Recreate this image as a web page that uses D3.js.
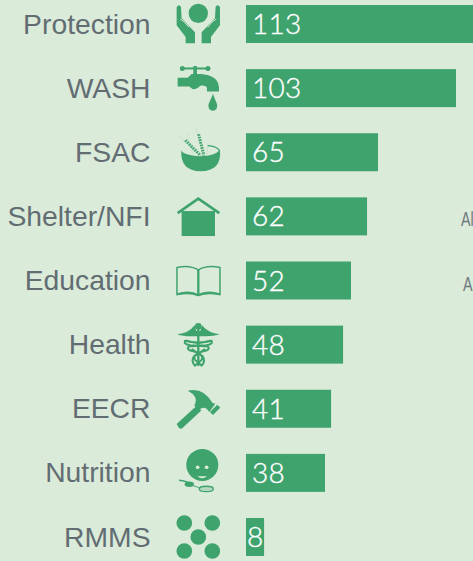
<!DOCTYPE html>
<html><head><meta charset="utf-8">
<script src="https://cdn.jsdelivr.net/npm/d3@7/dist/d3.min.js"></script>
<style>html,body{margin:0;padding:0;background:#dbebd9;overflow:hidden}svg{display:block}</style>
</head><body><script>
const categories = ["Protection","WASH","FSAC","Shelter/NFI","Education","Health","EECR","Nutrition","RMMS"];
const labelValues = [113,103,65,62,52,48,41,38,8];
// Bar lengths, on the same value axis (drawn bars differ slightly from their labels)
const barLengths = [113,103.4,65,59.6,51.7,47.8,41.9,38.9,8.9];
const strayLabels = [{row:3,text:"Al"},{row:4,text:"A"}];

const W=473,H=561,GREEN="#3fa36d",BG="#dbebd9",GREY="#626d73";
const svg=d3.select("body").append("svg").attr("width",W).attr("height",H);
svg.append("rect").attr("width",W).attr("height",H).attr("fill",BG);

const y=d3.scaleBand().domain(categories).range([5,556]).paddingInner(0.4075).paddingOuter(0);
const x=d3.scaleLinear().domain([0,103.4]).range([246,456]);
const cy=c=>y(c)+y.bandwidth()/2;

const rows=svg.selectAll("g.row").data(categories.map((c,i)=>({c,i,v:labelValues[i],len:barLengths[i]}))).join("g").attr("class","row");
rows.append("rect").attr("x",x(0)).attr("y",d=>y(d.c)).attr("width",d=>x(d.len)-x(0)).attr("height",y.bandwidth()).attr("fill",GREEN);
rows.append("text").attr("x",150.5).attr("y",d=>cy(d.c)+9.6).attr("text-anchor","end")
  .attr("font-family","'Liberation Sans',Arial,sans-serif").attr("font-size",28.3).attr("fill",GREY).text(d=>d.c);
rows.append("text").attr("x",d=>d.v<10?x(0)+1:x(0)+6).attr("y",d=>cy(d.c)+10).attr("font-family","Lato,sans-serif").attr("font-weight",300)
  .attr("font-size",28).attr("fill","#fff").attr("stroke","#fff").attr("stroke-width",0.35).attr("letter-spacing",0.3).text(d=>d.v);

strayLabels.forEach(s=>svg.append("text").attr("transform",`translate(${s.row===3?461:463},${cy(categories[s.row])+10}) scale(0.68,1)`)
  .attr("font-family","'Liberation Sans',sans-serif").attr("font-size",21).attr("fill","#71797f").text(s.text));

// Icon artwork: each is drawn in a 3x local space, centred on its row
const icons={
 Protection:[72,g=>{
  g.append("circle").attr("cx",115).attr("cy",40).attr("r",29);
  [0,1].forEach(m=>{const h=g.append("g").attr("transform",m?"translate(230,0) scale(-1,1)":null);
   h.append("path").attr("d","M50,22 Q56,10 63,20 L65,55 L105,97 V130 H77 V111 L50,76 Z");
   h.append("path").attr("d","M61,57 Q72,62 87,82").attr("fill","none").attr("stroke",BG).attr("stroke-width",3);});
 }],
 WASH:[264,g=>{
  g.append("path").attr("d","M66,205 H144").attr("fill","none").attr("stroke",GREEN).attr("stroke-width",6);
  g.append("circle").attr("cx",67).attr("cy",205).attr("r",7.5);g.append("circle").attr("cx",144).attr("cy",205).attr("r",7.5);
  g.append("rect").attr("x",100).attr("y",198).attr("width",11).attr("height",30);
  g.append("path").attr("d","M53,233 H83 L95,222 H122 Q175,226 177,262 V274 H141 V262 Q135,254 121,257 Q104,276 88,259 H53 Z");
  g.append("path").attr("d","M159,282 L171,312 A13.5,14.5 0 1 1 146,312 Z");
 }],
 FSAC:[456,g=>{
  g.append("path").attr("d","M55,405 L118,465 M108,385 L130,465 M82,400 L100,465 M145,430 L140,465").attr("fill","none").attr("stroke","#a8d4b6").attr("stroke-width",1.2);
  g.append("path").attr("d","M76,420 L122,466 M116,402 L132,466").attr("fill","none").attr("stroke",GREEN).attr("stroke-width",9).attr("stroke-dasharray","5 3");
  g.append("path").attr("d","M64,449 Q66,464 122,468 Q165,466 180,449 Q186,512 122,513 Q60,512 64,449 Z");
  g.append("path").attr("d","M143,436 Q172,438 179,452").attr("fill","none").attr("stroke",GREEN).attr("stroke-width",4);
 }],
 "Shelter/NFI":[78,g=>{
  g.append("rect").attr("x",65).attr("y",62).attr("width",100).attr("height",75);
  g.append("path").attr("d","M73,61 L115,33 L157,61 Z").attr("fill",BG);
  g.append("path").attr("d","M53,68 L115,25 L178,68").attr("fill","none").attr("stroke",GREEN).attr("stroke-width",8);
 }],
 Education:[270,g=>{
  g.append("path").attr("d","M115,238 Q88,222 51,231 V312 Q90,304 115,315 Q140,304 180,312 V231 Q142,222 115,238 Z").attr("fill","none").attr("stroke",GREEN).attr("stroke-width",4.5);
  g.append("path").attr("d","M115,238 V315").attr("stroke",GREEN).attr("stroke-width",7);
  g.append("path").attr("d","M52,311 Q90,300 115,314 Q140,300 179,311").attr("fill","none").attr("stroke",GREEN).attr("stroke-width",6);
 }],
 Health:[462,g=>{
  g.append("circle").attr("cx",115).attr("cy",407).attr("r",10);
  g.append("path").attr("d","M52,431 Q86,428 104,404 L109,421 H121 L126,404 Q146,428 180,431 Q160,438 130,437 H100 Q70,438 52,431 Z");
  g.append("path").attr("d","M115,415 V526").attr("stroke",GREEN).attr("stroke-width",7);
  g.append("path").attr("d","M72,450 Q115,462 150,450 Q165,458 140,464 Q100,466 86,468 Q78,478 100,482 Q135,492 125,508 L105,525 Q92,510 102,497 Q125,482 135,475").attr("fill","none").attr("stroke",GREEN).attr("stroke-width",6);
  g.append("path").attr("d","M158,450 Q115,462 80,450 Q65,458 90,464 Q130,466 144,468 Q152,478 130,482 Q95,492 105,508 L125,525 Q138,510 128,497 Q105,482 95,475").attr("fill","none").attr("stroke",GREEN).attr("stroke-width",6);
 }],
 EECR:[87,g=>{
  g.append("path").attr("d","M58,146 L50,133 L110,78 L124,92 L66,146 Z");
  g.append("path").attr("d","M83,33 Q130,22 158,70 L166,72 L148,97 L141,88 Q128,78 116,92 L103,77 Q118,50 83,33 Z");
  g.append("path").attr("d","M172,75 L181,84 L159,106 L150,97 Z");
 }],
 Nutrition:[279,g=>{
  g.append("circle").attr("cx",127).attr("cy",255).attr("r",48);
  g.append("circle").attr("cx",113).attr("cy",262).attr("r",5.5).attr("fill",BG);
  g.append("circle").attr("cx",140).attr("cy",262).attr("r",5.5).attr("fill",BG);
  g.append("path").attr("d","M112,289 H141 Q127,301 112,289 Z").attr("fill",BG);
  g.append("path").attr("d","M57,301 Q80,302 98,316").attr("fill","none").attr("stroke",GREEN).attr("stroke-width",4);
  g.append("ellipse").attr("cx",88).attr("cy",313).attr("rx",14).attr("ry",8);
  g.append("path").attr("d","M100,318 Q112,320 118,325").attr("fill","none").attr("stroke",GREEN).attr("stroke-width",3);
  g.append("ellipse").attr("cx",139).attr("cy",327).attr("rx",21).attr("ry",8).attr("fill","#b5d8bf").attr("stroke",GREEN).attr("stroke-width",4);
 }],
 RMMS:[471,g=>{
  [[73,429],[157,429],[115,471],[73,513],[157,513]].forEach(p=>g.append("circle").attr("cx",p[0]).attr("cy",p[1]).attr("r",23.5));
 }]
};
rows.each(function(d){
 const [oy,draw]=icons[d.c];
 const g=d3.select(this).append("g").attr("fill",GREEN).attr("transform",`translate(198.3,${cy(d.c)}) scale(${1/3}) translate(-115,${-oy})`);
 draw(g);
});
</script></body></html>
